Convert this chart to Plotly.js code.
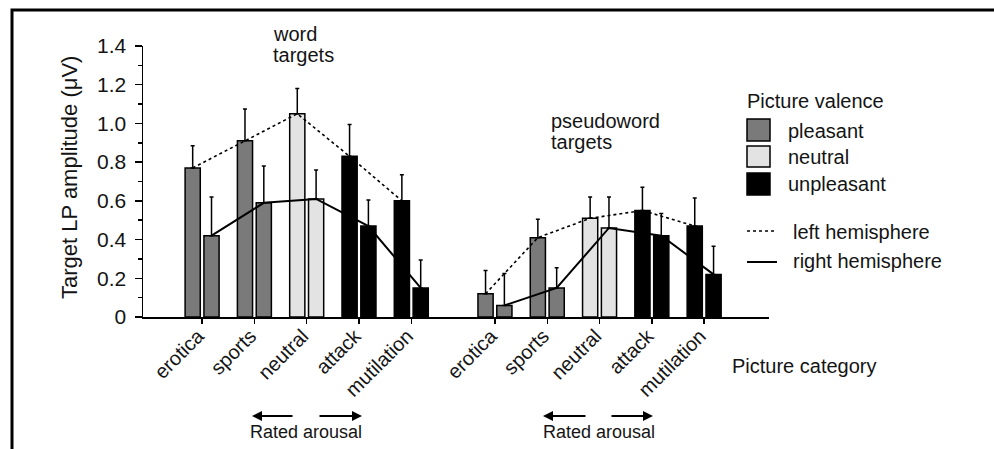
<!DOCTYPE html>
<html>
<head>
<meta charset="utf-8">
<script src="https://cdn.plot.ly/plotly-3.0.1.min.js"></script>
<style>html,body{margin:0;padding:0;background:#fff;}#chart{width:994px;height:449px;}</style>
</head>
<body>
<div id="chart"></div>
<script>
// ---- data ----
const categories = ['erotica', 'sports', 'neutral', 'attack', 'mutilation'];
const valence = ['pleasant', 'pleasant', 'neutral', 'unpleasant', 'unpleasant'];
const groups = ['word targets', 'pseudoword targets'];
const yTickVals = [0, 0.2, 0.4, 0.6, 0.8, 1.0, 1.2, 1.4];
const yTickText = ['0', '0.2', '0.4', '0.6', '0.8', '1.0', '1.2', '1.4'];

const wordLeft = [0.77, 0.91, 1.05, 0.83, 0.60];
const wordLeftErr = [0.115, 0.165, 0.13, 0.165, 0.135];
const wordRight = [0.42, 0.59, 0.61, 0.47, 0.15];
const wordRightErr = [0.20, 0.19, 0.15, 0.135, 0.145];
const pseudoLeft = [0.12, 0.41, 0.51, 0.55, 0.47];
const pseudoLeftErr = [0.12, 0.095, 0.11, 0.12, 0.145];
const pseudoRight = [0.06, 0.15, 0.46, 0.42, 0.22];
const pseudoRightErr = [0.165, 0.105, 0.16, 0.115, 0.145];

// ---- styles / layout helpers ----
const valenceColor = {pleasant: '#7a7a7a', neutral: '#e3e3e3', unpleasant: '#000000'};
const FONT = '"Liberation Sans", Arial, Helvetica, sans-serif';
const TXT = '#141414';
const groupStart = [0, 5.6];
const barW = 0.29, half = 0.18;

function positions(g) { return categories.map((c, i) => groupStart[g] + i); }
const colors = valence.map(v => valenceColor[v]);

function barTrace(g, side, vals, errs) {
  return {
    type: 'bar', x: positions(g), y: vals, width: barW,
    offset: side < 0 ? -half - barW / 2 : half - barW / 2,
    marker: {color: colors, line: {color: '#000', width: 1.5}},
    error_y: {type: 'data', array: errs, arrayminus: errs.map(() => 0), symmetric: false,
      color: '#000', thickness: 1.5, width: 2},
    showlegend: false, hoverinfo: 'skip'
  };
}
function lineTrace(g, side, vals) {
  return {
    type: 'scatter', mode: 'lines', x: positions(g).map(p => p + side * half), y: vals,
    line: side < 0 ? {color: '#000', width: 1.6, dash: 'dot'} : {color: '#000', width: 2},
    showlegend: false, hoverinfo: 'skip'
  };
}

const traces = [
  barTrace(0, -1, wordLeft, wordLeftErr),
  barTrace(0, 1, wordRight, wordRightErr),
  barTrace(1, -1, pseudoLeft, pseudoLeftErr),
  barTrace(1, 1, pseudoRight, pseudoRightErr),
  lineTrace(0, -1, wordLeft),
  lineTrace(0, 1, wordRight),
  lineTrace(1, -1, pseudoLeft),
  lineTrace(1, 1, pseudoRight)
];

const Lp = 143, Rp = 769, Tp = 46, Bp = 317;
const px = x => (x - Lp) / (Rp - Lp);
const py = y => (Bp - y) / (Bp - Tp);

function txt(text, x, y, size, xanchor, extra) {
  return Object.assign({text: text, x: px(x), y: py(y), xref: 'paper', yref: 'paper',
    xanchor: xanchor || 'left', yanchor: 'middle', showarrow: false,
    font: {family: FONT, size: size || 20, color: TXT}}, extra || {});
}
function arrow(xHead, xTail, y) {
  return {text: '', x: px(xHead), y: py(y), xref: 'paper', yref: 'paper',
    ax: xTail - xHead, ay: 0, showarrow: true, arrowhead: 2, arrowsize: 1,
    arrowwidth: 2, arrowcolor: '#000', standoff: 0, startstandoff: 0};
}

const annotations = [
  txt('Target LP amplitude (μV)', 69, 178, 22, 'center', {textangle: -90}),
  txt('word', 271, 34, 20),
  txt('targets', 271, 55, 20),
  txt('pseudoword', 549, 121, 20),
  txt('targets', 549, 142, 20),
  txt('Picture category', 730, 366, 20),
  txt('Picture valence', 745, 101, 20),
  txt('pleasant', 786, 131, 20),
  txt('neutral', 786, 157, 20),
  txt('unpleasant', 786, 184, 20),
  txt('left hemisphere', 791, 232, 20),
  txt('right hemisphere', 791, 261, 20),
  txt('Rated arousal', 306, 432, 18, 'center'),
  txt('Rated arousal', 599, 432, 18, 'center'),
  arrow(252, 294, 416), arrow(362, 318, 416),
  arrow(543, 587, 416), arrow(653, 610, 416)
];

function rect(x0, y0, x1, y1, fill) {
  return {type: 'rect', xref: 'paper', yref: 'paper', x0: px(x0), x1: px(x1), y0: py(y0), y1: py(y1),
    fillcolor: fill, line: {color: '#000', width: 1.5}};
}
function hline(x0, x1, y, dash, w) {
  return {type: 'line', xref: 'paper', yref: 'paper', x0: px(x0), x1: px(x1), y0: py(y), y1: py(y),
    line: {color: '#000', width: w, dash: dash}};
}
const shapes = [
  rect(747, 119, 770, 141, valenceColor.pleasant),
  rect(747, 146, 770, 167, valenceColor.neutral),
  rect(747, 173, 770, 195, valenceColor.unpleasant),
  hline(747, 777, 231, 'dot', 1.5),
  hline(747, 777, 262, 'solid', 2),
  {type: 'path', xref: 'paper', yref: 'paper',
    path: `M ${px(12)},${py(449)} L ${px(12)},${py(10)} L ${px(994)},${py(10)}`,
    line: {color: '#000', width: 3}}
];

const layout = {
  width: 994, height: 449,
  margin: {l: Lp, r: 994 - Rp, t: Tp, b: 449 - Bp, pad: 0},
  paper_bgcolor: '#fff', plot_bgcolor: 'rgba(0,0,0,0)',
  barmode: 'overlay', showlegend: false,
  font: {family: FONT, color: TXT, size: 20},
  xaxis: {
    range: [-1.13, 10.84], showgrid: false, zeroline: false,
    showline: true, linecolor: '#000', linewidth: 1.5,
    ticks: 'outside', ticklen: 5, tickwidth: 1.5, tickcolor: '#000',
    tickvals: groups.flatMap((g, gi) => positions(gi)),
    ticktext: groups.flatMap(() => categories),
    tickangle: -45, ticklabelstandoff: -7, ticklabelshift: -4,
    tickfont: {family: FONT, size: 20, color: TXT}
  },
  yaxis: {
    range: [0, 1.4], showgrid: false, zeroline: false,
    showline: true, linecolor: '#000', linewidth: 1.5,
    ticks: 'outside', ticklen: 7, tickwidth: 1.5, tickcolor: '#000',
    tickvals: yTickVals, ticktext: yTickText, ticklabelstandoff: 4,
    tickfont: {family: FONT, size: 21, color: TXT},
    minor: {dtick: 0.1, ticks: 'outside', ticklen: 3.5, tickwidth: 1.5, tickcolor: '#000', showgrid: false}
  },
  annotations: annotations,
  shapes: shapes
};

Plotly.newPlot('chart', traces, layout, {displayModeBar: false, staticPlot: true});
</script>
</body>
</html>
